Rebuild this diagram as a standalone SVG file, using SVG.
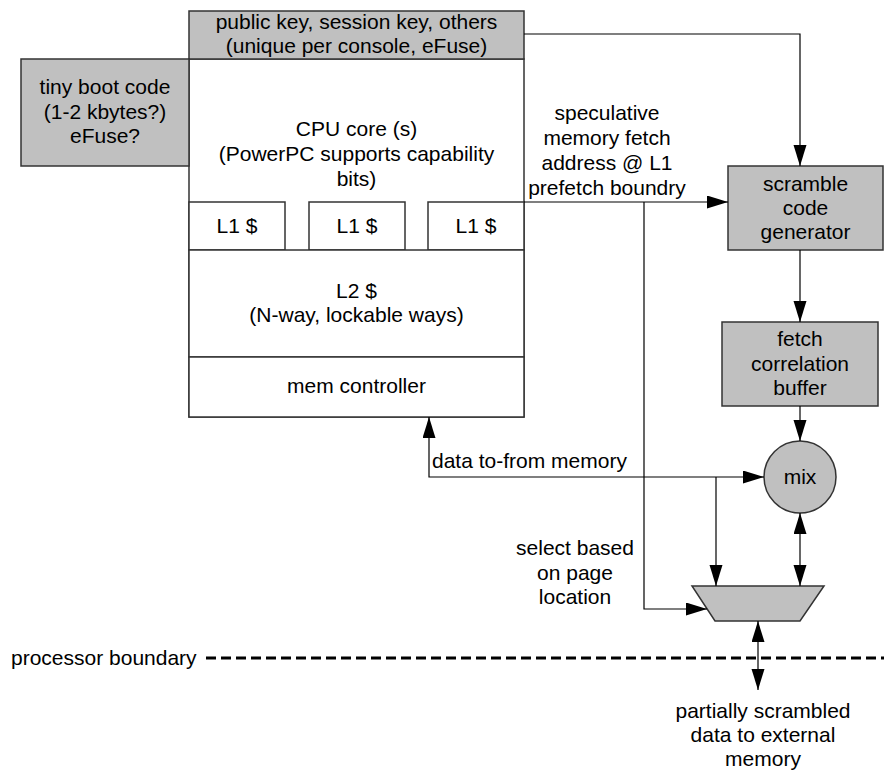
<svg xmlns="http://www.w3.org/2000/svg" width="884" height="771" viewBox="0 0 884 771">
<defs>
<style>
text{font-family:"Liberation Sans",Arial,sans-serif;font-size:21px;fill:#000;}
.c{text-anchor:middle;}
.box{fill:#fff;stroke:#333;stroke-width:1.5;}
.gbox{fill:#c0c0c0;stroke:#333;stroke-width:1.5;}
.ln{fill:none;stroke:#000;stroke-width:1.2;}
.dash{fill:none;stroke:#000;stroke-width:3;stroke-dasharray:10 5;}
</style>
<marker id="ah" markerUnits="userSpaceOnUse" markerWidth="22" markerHeight="14" refX="21" refY="6.5" orient="auto-start-reverse">
<path d="M0,0 L21,6.5 L0,13 z" fill="#000"/>
</marker>
</defs>
<rect width="884" height="771" fill="#fff"/>

<g id="cpu">
<rect class="box" x="189" y="59" width="335" height="358"/>
<text class="c" x="356.5" y="136">CPU core (s)</text>
<text class="c" x="356.5" y="161">(PowerPC supports capability</text>
<text class="c" x="356.5" y="186">bits)</text>
</g>
<g id="l1a"><rect class="box" x="189" y="202" width="96" height="48"/><text class="c" x="237" y="233">L1 $</text></g>
<g id="l1b"><rect class="box" x="309" y="202" width="96" height="48"/><text class="c" x="357" y="233">L1 $</text></g>
<g id="l1c"><rect class="box" x="428" y="202" width="96" height="48"/><text class="c" x="476" y="233">L1 $</text></g>
<g id="l2">
<rect class="box" x="189" y="250" width="335" height="107"/>
<text class="c" x="356.5" y="298">L2 $</text>
<text class="c" x="356.5" y="322">(N-way, lockable ways)</text>
</g>
<g id="memctl">
<rect class="box" x="189" y="357" width="335" height="60"/>
<text class="c" x="356.5" y="393">mem controller</text>
</g>
<g id="keys">
<rect class="gbox" x="189" y="11" width="335" height="48"/>
<text class="c" x="356.5" y="29">public key, session key, others</text>
<text class="c" x="356.5" y="53">(unique per console, eFuse)</text>
</g>
<g id="boot">
<rect class="gbox" x="21" y="59" width="168" height="107"/>
<text class="c" x="105" y="94">tiny boot code</text>
<text class="c" x="105" y="119">(1-2 kbytes?)</text>
<text class="c" x="105" y="143">eFuse?</text>
</g>
<g id="scramble">
<rect class="gbox" x="728" y="166" width="155" height="84"/>
<text class="c" x="805.5" y="191">scramble</text>
<text class="c" x="805.5" y="215">code</text>
<text class="c" x="805.5" y="239">generator</text>
</g>
<g id="fcb">
<rect class="gbox" x="722" y="322" width="156" height="84"/>
<text class="c" x="800" y="346">fetch</text>
<text class="c" x="800" y="371">correlation</text>
<text class="c" x="800" y="395">buffer</text>
</g>
<g id="mix">
<circle class="gbox" cx="800" cy="477" r="36"/>
<text class="c" x="800" y="484">mix</text>
</g>
<g id="mux">
<polygon class="gbox" points="692,586 824,586 800,621 715,621"/>
</g>

<g id="connectors">
<path class="ln" d="M524,34 H800 V166" marker-end="url(#ah)"/>
<path class="ln" d="M524,202 H728" marker-end="url(#ah)"/>
<path class="ln" d="M644,202 V609 H707" marker-end="url(#ah)"/>
<path class="ln" d="M800,250 V322" marker-end="url(#ah)"/>
<path class="ln" d="M800,406 V441" marker-end="url(#ah)"/>
<path class="ln" d="M429,417 V477 H764" marker-start="url(#ah)" marker-end="url(#ah)"/>
<path class="ln" d="M716,477 V586" marker-end="url(#ah)"/>
<path class="ln" d="M800,513 V586" marker-start="url(#ah)" marker-end="url(#ah)"/>
<path class="ln" d="M758,621 V690" marker-start="url(#ah)" marker-end="url(#ah)"/>
<path class="dash" d="M206,658 H884"/>
</g>

<g id="labels">
<text class="c" x="607" y="120">speculative</text>
<text class="c" x="607" y="145">memory fetch</text>
<text class="c" x="607" y="170">address @ L1</text>
<text class="c" x="607" y="195">prefetch boundry</text>
<text x="432" y="468">data to-from memory</text>
<text class="c" x="575" y="555">select based</text>
<text class="c" x="575" y="580">on page</text>
<text class="c" x="575" y="604">location</text>
<text x="11" y="665">processor boundary</text>
<text class="c" x="763" y="718">partially scrambled</text>
<text class="c" x="763" y="742">data to external</text>
<text class="c" x="763" y="766">memory</text>
</g>
</svg>
